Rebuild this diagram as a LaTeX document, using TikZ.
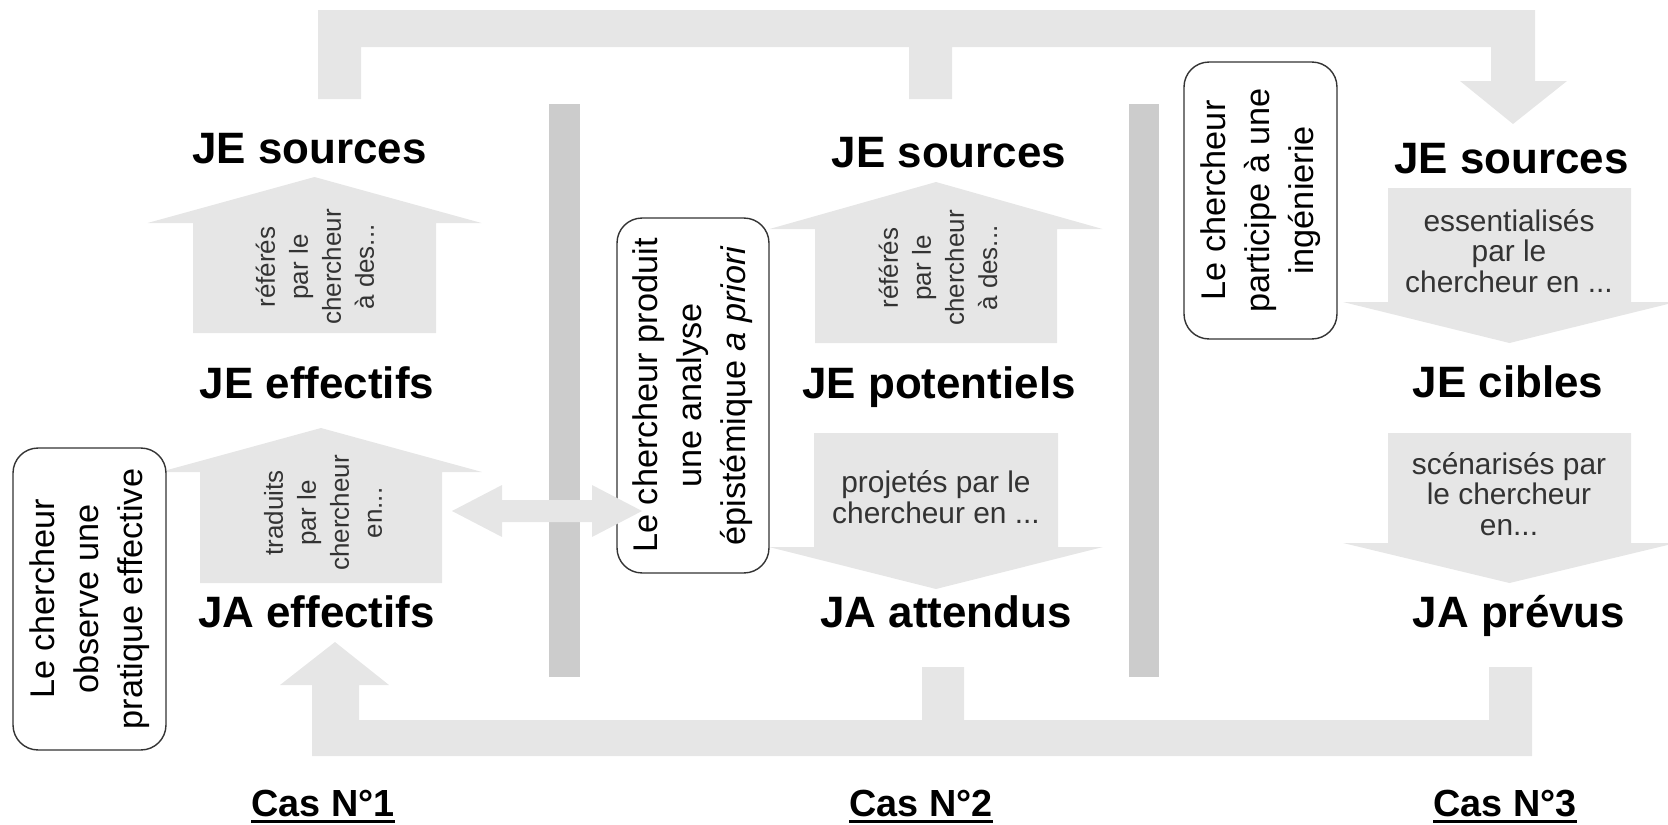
\documentclass[tikz,border=0pt]{standalone}
\usepackage{fontspec}
\setmainfont{Liberation Sans}
\usepackage{tikz}
\usetikzlibrary{positioning}
\usepackage{xcolor}
\definecolor{arrowgray}{HTML}{E6E6E6}
\definecolor{bargray}{HTML}{CCCCCC}
\definecolor{notegray}{HTML}{333333}
% centre x, tip y, wing y, tail y, half shaft, half head
\newcommand\blockarrow[6]{
  \fill[arrowgray] ({#1-#5},#4) -- ({#1-#5},#3) -- ({#1-#6},#3) -- (#1,#2)
    -- ({#1+#6},#3) -- ({#1+#5},#3) -- ({#1+#5},#4) -- cycle;
}
\tikzset{
  stage/.style={font=\fontsize{25}{30}\selectfont\bfseries, anchor=base, inner sep=0pt},
  upnote/.style={rotate=90, align=center, text=notegray, font=\fontsize{14.8}{18.8}\selectfont},
  downnote/.style={align=center, text=notegray, font=\fontsize{17}{17.3}\selectfont},
  researcher/.style={rotate=90, draw=notegray, fill=white, rounded corners=0.5cm, line width=0.8pt,
    align=center, inner sep=0pt, font=\fontsize{19.5}{25}\selectfont},
  caselabel/.style={font=\fontsize{21.5}{24}\selectfont\bfseries, anchor=base, inner xsep=0pt, inner ysep=0.1cm},
}

\begin{document}
\begin{tikzpicture}[x=0.02cm, y=-0.02cm]
    \useasboundingbox (0,0) rectangle (1668,825);
    \clip (0,0) rectangle (1668,825);

    \fill[arrowgray] (318,99) -- (318,10) -- (1535,10) -- (1535,81) -- (1567,81) -- (1513,124)
      -- (1460,81) -- (1491,81) -- (1491,47) -- (952,47) -- (952,99) -- (909,99) -- (909,47)
      -- (361,47) -- (361,99) -- cycle;
    \fill[arrowgray] (312,756) -- (312,685) -- (280,685) -- (335,642) -- (389,685) -- (359,685)
      -- (359,720) -- (922,720) -- (922,667) -- (964,667) -- (964,720) -- (1489,720)
      -- (1489,667) -- (1532,667) -- (1532,756) -- cycle;

    \fill[bargray] (549,104) rectangle (580,677);
    \fill[bargray] (1129,104) rectangle (1159,677);

    \blockarrow{314.5}{177}{223}{333}{121.5}{167}
    \blockarrow{321}{428}{472}{583}{121}{161}
    \blockarrow{936}{182}{229}{343}{121}{166.5}
    \blockarrow{936}{589}{547}{433}{122}{167}
    \blockarrow{1509.5}{343}{302}{188}{121.5}{166.5}
    \blockarrow{1509.5}{583}{543}{433}{121.5}{166.5}

    \node[researcher, minimum width=6.04cm, minimum height=3.06cm] (observe) at (89.5,599)
      {Le chercheur\\observe une\\pratique effective};
    \node[researcher, minimum width=7.1cm, minimum height=3.04cm] (analyse) at (693,395.5)
      {Le chercheur produit\\une analyse\\épistémique \textit{a priori}};
    \node[researcher, minimum width=5.54cm, minimum height=3.06cm] (inge) at (1260.5,200.5)
      {Le chercheur\\participe à une\\ingénierie};

    \fill[arrowgray] (452,511) -- (502,485) -- (502,500) -- (592,500) -- (592,485) -- (642,511)
      -- (592,537) -- (592,522) -- (502,522) -- (502,537) -- cycle;

    \node[stage] (src1) at (309.5,163) {JE sources};
    \node[stage] (eff1) at (317,398) {JE effectifs};
    \node[stage] (ja1) at (316.5,627) {JA effectifs};
    \node[stage] (src2) at (949,167) {JE sources};
    \node[stage] (pot2) at (939,398) {JE potentiels};
    \node[stage] (ja2) at (946,627) {JA attendus};
    \node[stage] (src3) at (1511.5,173) {JE sources};
    \node[stage] (cib3) at (1508,397) {JE cibles};
    \node[stage] (ja3) at (1519,627) {JA prévus};

    \node[upnote] (ref1) at (315,267) {référés\\par le\\chercheur\\à des...};
    \node[upnote] (trad1) at (323,513) {traduits\\par le\\chercheur\\en...};
    \node[upnote] (ref2) at (938,268) {référés\\par le\\chercheur\\à des...};
    \node[downnote] (proj2) at (936,497) {projetés par le\\chercheur en ...};
    \node[downnote] (ess3) at (1509,251) {essentialisés\\par le\\chercheur en ...};
    \node[downnote] (scen3) at (1509,494) {scénarisés par\\le chercheur\\en...};

    \node[caselabel] (cas1) at (323,816) {Cas N°1};
    \node[caselabel] (cas2) at (921,816) {Cas N°2};
    \node[caselabel] (cas3) at (1505,816) {Cas N°3};
    \foreach \c in {cas1, cas2, cas3}
      \draw[line width=1.6pt] (\c.south west) -- (\c.south east);
  \end{tikzpicture}
\end{document}
